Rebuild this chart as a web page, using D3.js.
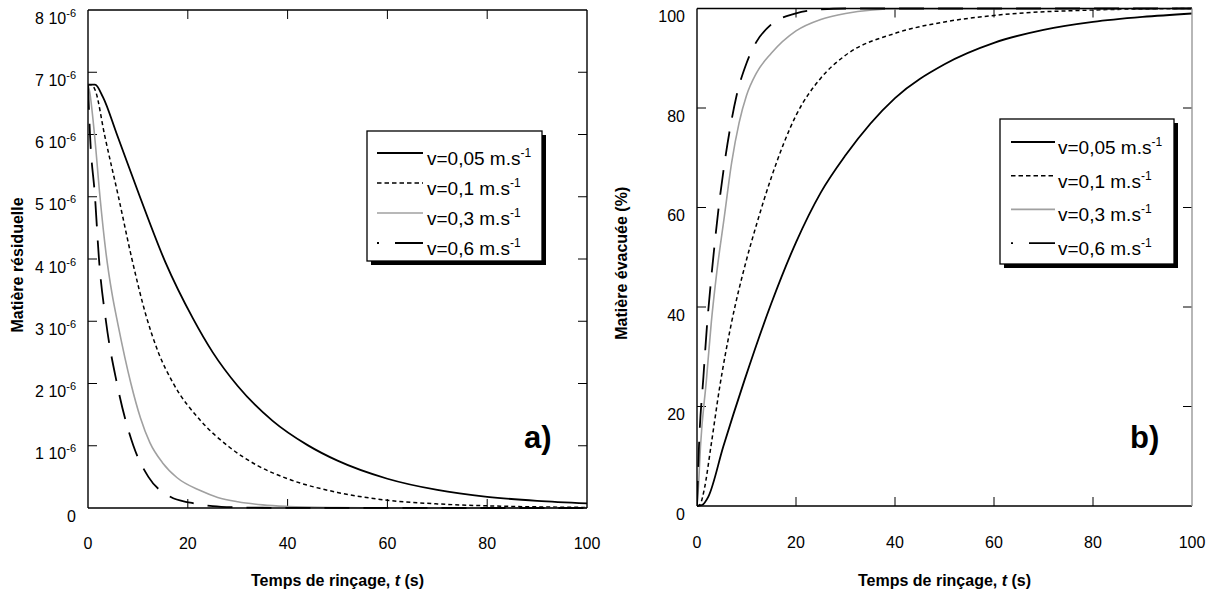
<!DOCTYPE html>
<html><head><meta charset="utf-8">
<script src="https://cdn.jsdelivr.net/npm/d3@7"></script>
<style>
body{margin:0;background:#fff}
svg{display:block}
text{font-family:"Liberation Sans",Arial,sans-serif;fill:#000}
</style>
</head><body>
<svg id="chart" width="1212" height="596"></svg>
<script>
// ---------- data ----------
const seriesNames = ["v=0,05 m.s", "v=0,1 m.s", "v=0,3 m.s", "v=0,6 m.s"];
const seriesExp = "-1";
const xTicks = [0, 20, 40, 60, 80, 100];
const yTicksA = [0, 1, 2, 3, 4, 5, 6, 7, 8];      // residual matter, units of 10^-6
const yTickExpA = "-6";
const yTicksB = [0, 20, 40, 60, 80, 100];         // evacuated matter (%)
const xTitle = "Temps de rinçage, ";
const yTitleA = "Matière résiduelle";
const yTitleB = "Matière évacuée (%)";
const panelTags = ["a)", "b)"];

// panel a) residual matter (×10^-6)
const tA005 = [0, 1.4, 3, 5.8, 10.4, 15.5, 21, 25, 30, 37, 44, 50, 60, 70, 80, 90, 100];
const vA005 = [6.8, 6.8, 6.6, 6.0, 5.0, 3.95, 3.05, 2.5, 1.96, 1.4, 1.01, 0.76, 0.47, 0.29, 0.18, 0.115, 0.075];
const tA01 = [0, 0.7, 1.5, 3.3, 6.1, 8.8, 11.6, 14, 17.1, 22.5, 28.3, 34, 40, 50, 60, 70, 80, 90, 100];
const vA01 = [6.8, 6.8, 6.7, 6.0, 5.0, 4.0, 3.1, 2.52, 2.0, 1.41, 0.98, 0.68, 0.47, 0.25, 0.125, 0.066, 0.035, 0.018, 0.009];
const tA03 = [0, 0.3, 1.3, 2.4, 3.6, 4.8, 6.0, 8.6, 10.5, 12.4, 15, 17.8, 22.5, 26, 30, 35, 40, 50, 60, 100];
const vA03 = [6.8, 6.7, 6.0, 5.0, 4.1, 3.45, 2.95, 2.0, 1.45, 1.05, 0.72, 0.49, 0.28, 0.17, 0.1, 0.05, 0.025, 0.006, 0, 0];
const tA06 = [0, 0.4, 1.4, 2.2, 3.6, 5.8, 9.1, 12.1, 16.5, 20.5, 25, 30, 35, 40, 100];
const vA06 = [6.8, 6.0, 5.0, 4.0, 3.0, 2.0, 1.0, 0.5, 0.18, 0.085, 0.03, 0.01, 0.004, 0.0015, 0];

// panel b) evacuated matter (%)
const tB005 = [0, 1, 2.3, 5.3, 9.6, 15, 20, 25, 30, 40, 50, 60, 70, 80, 90, 100];
const vB005 = [0, 0.2, 1.9, 11.9, 25.3, 40.7, 53, 63, 70.5, 82, 88.8, 93.1, 95.7, 97.3, 98.3, 99];
const tB01 = [0, 0.6, 1.5, 2.8, 4.6, 6.9, 10, 12, 15, 20, 25, 30, 40, 50, 60, 80, 100];
const vB01 = [0, 0.3, 3.5, 11.9, 24, 36.5, 49.5, 56.5, 66, 78.5, 86, 90.6, 95, 97.3, 98.6, 99.7, 100];
const tB03 = [0, 0.3, 0.7, 1.9, 2.9, 4, 5.5, 7, 8.5, 10, 12, 15, 20, 25, 30, 40, 100];
const vB03 = [0, 4, 11.9, 25.3, 37, 47, 58, 69, 77, 82.5, 87, 91, 95.5, 97.8, 99, 99.9, 100];
const tB06 = [0, 0.4, 1.3, 2, 2.8, 3.6, 4.5, 5.5, 6.7, 8, 10, 12, 15, 20, 25, 30, 100];
const vB06 = [0, 12, 26, 36, 45, 53, 61, 68.5, 76, 82.5, 89, 93.3, 96.8, 99, 99.8, 100, 100];

// ---------- styles ----------
const lineStyles = [
  {stroke: "#000", width: 1.8, dash: null, legendDash: null},
  {stroke: "#000", width: 1.5, dash: "4,3", legendDash: "4.5,3"},
  {stroke: "#a0a0a0", width: 1.6, dash: null, legendDash: null},
  {stroke: "#000", width: 1.8, dash: "25,14", legendDash: "2,16,28"}
];

const svg = d3.select("#chart");

function zip(ts, vs) { return ts.map((t, i) => ({t, v: vs[i]})); }

function drawPanel(cfg) {
  const x = d3.scaleLinear().domain([0, 100]).range([cfg.left, cfg.right]);
  const y = d3.scaleLinear().domain(cfg.yDomain).range([cfg.bottom, cfg.top]);
  const g = svg.append("g");
  const clipId = "clip" + cfg.id;
  svg.append("defs").append("clipPath").attr("id", clipId)
    .append("rect").attr("x", cfg.left).attr("y", cfg.top - 2)
    .attr("width", cfg.right - cfg.left).attr("height", cfg.bottom - cfg.top + 3);

  // ticks (inward on all four sides)
  const tl = 9;
  xTicks.forEach(t => {
    if (t === 0 || t === 100) return;
    g.append("line").attr("x1", x(t)).attr("x2", x(t)).attr("y1", cfg.bottom).attr("y2", cfg.bottom - tl)
      .attr("stroke", "#000").attr("stroke-width", 1);
    g.append("line").attr("x1", x(t)).attr("x2", x(t)).attr("y1", cfg.top).attr("y2", cfg.top + tl)
      .attr("stroke", "#000").attr("stroke-width", 1);
  });
  cfg.yTicks.forEach(t => {
    if (t === cfg.yDomain[0] || t === cfg.yDomain[1]) return;
    g.append("line").attr("x1", cfg.left).attr("x2", cfg.left + tl).attr("y1", y(t)).attr("y2", y(t))
      .attr("stroke", "#000").attr("stroke-width", 1);
    g.append("line").attr("x1", cfg.right).attr("x2", cfg.right - tl).attr("y1", y(t)).attr("y2", y(t))
      .attr("stroke", "#000").attr("stroke-width", 1);
  });

  // x tick labels
  xTicks.forEach(t => {
    g.append("text").attr("x", x(t)).attr("y", cfg.xLabelY).attr("text-anchor", "middle")
      .attr("font-size", 16).text(t);
  });
  // y tick labels
  cfg.yTicks.forEach(t => {
    const txt = g.append("text").attr("x", cfg.left - 12).attr("y", y(t) + 13.5)
      .attr("text-anchor", "end").attr("font-size", 16);
    if (cfg.yExp && t !== 0) {
      txt.append("tspan").text(t + " 10");
      txt.append("tspan").attr("font-size", 11).attr("dy", -7).text(cfg.yExp);
    } else {
      txt.text(t);
    }
  });

  // curves
  const line = d3.line().x(d => x(d.t)).y(d => y(d.v)).curve(d3.curveMonotoneX);
  const cg = g.append("g").attr("clip-path", `url(#${clipId})`);
  cfg.series.forEach((s, i) => {
    const st = lineStyles[i];
    cg.append("path").datum(zip(s[0], s[1])).attr("d", line)
      .attr("fill", "none").attr("stroke", st.stroke).attr("stroke-width", st.width)
      .attr("stroke-dasharray", st.dash);
  });

  // frame
  g.append("line").attr("x1", cfg.left).attr("x2", cfg.left).attr("y1", cfg.top).attr("y2", cfg.bottom)
    .attr("stroke", "#000").attr("stroke-width", 1.4);
  g.append("line").attr("x1", cfg.left).attr("x2", cfg.right).attr("y1", cfg.bottom).attr("y2", cfg.bottom)
    .attr("stroke", "#000").attr("stroke-width", 1.4);
  g.append("line").attr("x1", cfg.left).attr("x2", cfg.right).attr("y1", cfg.top).attr("y2", cfg.top)
    .attr("stroke", "#000").attr("stroke-width", 1.4);
  g.append("line").attr("x1", cfg.right).attr("x2", cfg.right).attr("y1", cfg.top).attr("y2", cfg.bottom)
    .attr("stroke", cfg.rightFrame).attr("stroke-width", 1.4);

  // axis titles
  const xt = g.append("text").attr("x", (cfg.left + cfg.right) / 2).attr("y", 586)
    .attr("text-anchor", "middle").attr("font-size", 16).attr("font-weight", "bold");
  xt.append("tspan").text(xTitle);
  xt.append("tspan").attr("font-style", "italic").text("t");
  xt.append("tspan").text(" (s)");
  g.append("text").attr("transform", `translate(${cfg.yTitleX},${(cfg.top + cfg.bottom) / 2 + 6}) rotate(-90)`)
    .attr("text-anchor", "middle").attr("font-size", 16).attr("font-weight", "bold").text(cfg.yTitle);

  // panel tag
  g.append("text").attr("x", cfg.tagX).attr("y", 448).attr("font-size", 31).attr("font-weight", "bold")
    .text(cfg.tag);

  // legend
  const L = cfg.legend;
  g.append("rect").attr("x", L.x + 4).attr("y", L.y + 4).attr("width", L.w).attr("height", L.h).attr("fill", "#000");
  g.append("rect").attr("x", L.x).attr("y", L.y).attr("width", L.w).attr("height", L.h)
    .attr("fill", "#fff").attr("stroke", "#000").attr("stroke-width", 1.3);
  seriesNames.forEach((name, i) => {
    const st = lineStyles[i];
    const ly = L.y + L.firstRow + i * L.rowGap;
    g.append("line").attr("x1", L.lineX1).attr("x2", L.lineX2).attr("y1", ly).attr("y2", ly)
      .attr("stroke", st.stroke).attr("stroke-width", st.width).attr("stroke-dasharray", st.legendDash);
    const tx = g.append("text").attr("x", L.textX).attr("y", ly + 12).attr("font-size", 19);
    tx.append("tspan").text(name);
    tx.append("tspan").attr("font-size", 12).attr("dy", -8).text(seriesExp);
  });
}

drawPanel({
  id: "a", left: 88, right: 587, top: 10, bottom: 508,
  yDomain: [0, 8], yTicks: yTicksA, yExp: yTickExpA, xLabelY: 549,
  series: [[tA005, vA005], [tA01, vA01], [tA03, vA03], [tA06, vA06]],
  rightFrame: "#000", yTitle: yTitleA, yTitleX: 23, tag: panelTags[0], tagX: 524,
  legend: {x: 367, y: 131, w: 175, h: 130, firstRow: 22, rowGap: 30, lineX1: 377, lineX2: 423, textX: 427}
});
drawPanel({
  id: "b", left: 697, right: 1192, top: 8.5, bottom: 506,
  yDomain: [0, 100], yTicks: yTicksB, yExp: null, xLabelY: 548,
  series: [[tB005, vB005], [tB01, vB01], [tB03, vB03], [tB06, vB06]],
  rightFrame: "#999", yTitle: yTitleB, yTitleX: 627, tag: panelTags[1], tagX: 1130,
  legend: {x: 1000, y: 119, w: 174, h: 145, firstRow: 23, rowGap: 33.7, lineX1: 1011, lineX2: 1055, textX: 1058}
});
</script>
</body></html>
